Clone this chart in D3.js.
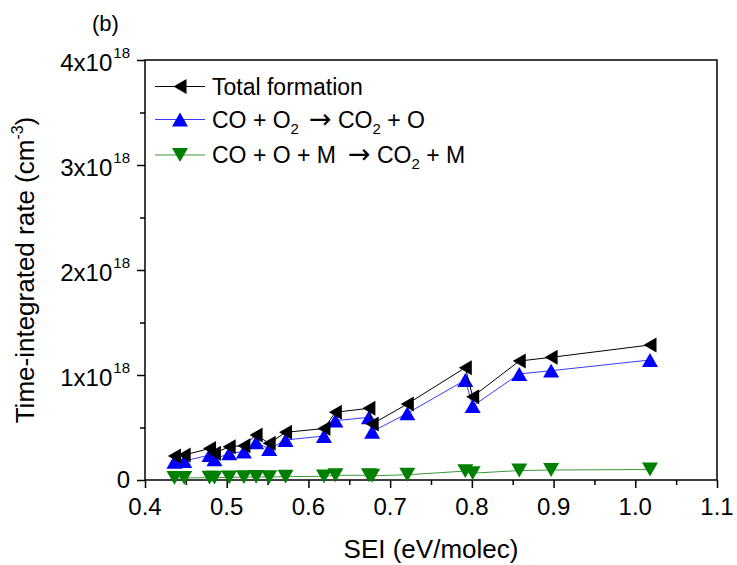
<!DOCTYPE html>
<html><head><meta charset="utf-8">
<script src="https://cdn.jsdelivr.net/npm/d3@7"></script>
<style>body{margin:0;background:#fff}svg{display:block}text{font-family:"Liberation Sans",Arial,sans-serif;fill:#000}</style>
</head><body><svg id="c" width="737" height="565"></svg>
<script>
// SEI values (eV/molec)
const sei = [0.436,0.448,0.479,0.485,0.503,0.521,0.536,0.552,0.572,0.619,0.633,0.674,0.678,0.721,0.792,0.801,0.858,0.897,1.018];
// Time-integrated rates in units of 1e18 cm^-3
const totalFormation = [0.229,0.238,0.300,0.254,0.317,0.327,0.429,0.349,0.454,0.490,0.645,0.683,0.533,0.724,1.070,0.794,1.133,1.168,1.286];
const coO2 = [0.174,0.181,0.238,0.197,0.254,0.270,0.359,0.295,0.381,0.419,0.565,0.597,0.460,0.635,0.952,0.705,1.010,1.041,1.143];
const coOM = [0.020,0.020,0.022,0.022,0.025,0.027,0.030,0.028,0.032,0.035,0.045,0.045,0.040,0.050,0.085,0.065,0.090,0.095,0.100];
const xTicks = [0.4,0.5,0.6,0.7,0.8,0.9,1.0,1.1];
const yTicks = [0,1,2,3,4];
const yTickLabels = ["0","1x10","2x10","3x10","4x10"];

const svg = d3.select("#c");
const L=145, R=717, T=60, B=480;
const x = d3.scaleLinear().domain([0.4,1.1]).range([L,R]);
const y = d3.scaleLinear().domain([0,4]).range([B,T]);

// frame
svg.append("rect").attr("x",L).attr("y",T).attr("width",R-L).attr("height",B-T)
  .attr("fill","none").attr("stroke","#000").attr("stroke-width",1.5);

// x axis
const xa = svg.append("g").attr("transform",`translate(0,${B})`)
  .call(d3.axisBottom(x).tickValues(d3.range(0.4,1.1001,0.05)).tickSize(5).tickFormat(""));
xa.select(".domain").remove();
xa.selectAll(".tick line").attr("stroke-width",1.5)
  .attr("y2",(d)=> Math.abs(Math.round(d*10)-d*10)<1e-6 ? 8 : 5);
xTicks.forEach(v=>{
  svg.append("text").attr("x",x(v)).attr("y",515).attr("text-anchor","middle")
    .attr("font-size",24).text(v.toFixed(1));
});

// y axis
const ya = svg.append("g").attr("transform",`translate(${L},0)`)
  .call(d3.axisLeft(y).tickValues(d3.range(0,4.001,0.5)).tickSize(5).tickFormat(""));
ya.select(".domain").remove();
ya.selectAll(".tick line").attr("stroke-width",1.5)
  .attr("x2",(d)=> Math.abs(Math.round(d)-d)<1e-6 ? -8 : -5);
yTicks.forEach((v,i)=>{
  const t = svg.append("text").attr("x",130).attr("y",y(v)+(v===0?8:11)).attr("text-anchor","end").attr("font-size",24);
  t.append("tspan").text(yTickLabels[i]);
  if(v!==0) t.append("tspan").attr("font-size",15).attr("dx",1).attr("dy",-13).text("18");
});

// axis titles
svg.append("text").attr("x",(L+R)/2).attr("y",558).attr("text-anchor","middle").attr("font-size",26).text("SEI (eV/molec)");
const yl = svg.append("text").attr("transform",`translate(34,${(T+B)/2}) rotate(-90)`).attr("text-anchor","middle").attr("font-size",26);
yl.append("tspan").text("Time-integrated rate (cm");
yl.append("tspan").attr("font-size",16).attr("dy",-11).text("-3");
yl.append("tspan").attr("dy",11).text(")");

svg.append("text").attr("x",92).attr("y",31).attr("font-size",22).text("(b)");

// markers
function tri(dir, s){
  const h = s*0.866;
  if(dir==="left") return `M${-h/2},0L${h/2},${-s/2}L${h/2},${s/2}Z`;
  if(dir==="up") return `M0,${-h/2}L${s/2},${h/2}L${-s/2},${h/2}Z`;
  return `M0,${h/2}L${s/2},${-h/2}L${-s/2},${-h/2}Z`;
}
const series = [
  {name:"total", vals:totalFormation, color:"#000000", line:"#000000", dir:"left", size:15},
  {name:"co2", vals:coO2, color:"#0000ff", line:"#3b3bff", dir:"up", size:16},
  {name:"com", vals:coOM, color:"#008000", line:"#3a9a3a", dir:"down", size:16}
];
const line = d3.line().x(d=>x(d[0])).y(d=>y(d[1]));
[series[2],series[1],series[0]].forEach(s=>{
  const pts = sei.map((v,i)=>[v,s.vals[i]]);
  svg.append("path").attr("d",line(pts)).attr("fill","none").attr("stroke",s.line).attr("stroke-width",1);
  svg.selectAll(null).data(pts).enter().append("path")
    .attr("transform",d=>`translate(${x(d[0])},${y(d[1])})`)
    .attr("d",tri(s.dir,s.size)).attr("fill",s.color);
});

// legend
const legendRows = [86.5,119.5,155];
series.forEach((s,i)=>{
  const ly = legendRows[i];
  svg.append("line").attr("x1",155).attr("x2",205).attr("y1",ly).attr("y2",ly).attr("stroke",s.line).attr("stroke-width",1);
  svg.append("path").attr("transform",`translate(180,${ly})`).attr("d",tri(s.dir,s.size)).attr("fill",s.color);
});
function addLegendText(ly, parts){
  const t = svg.append("text").attr("x",212).attr("y",ly+8).attr("font-size",23);
  let shift = 0;
  parts.forEach(p=>{
    if(p.sub){ t.append("tspan").attr("font-size",15).attr("dy",6-shift).text(p.sub); shift = 6; }
    else if(p.arrow){ t.append("tspan").attr("dy",-shift).attr("dx",p.dx).attr("font-family","DejaVu Sans").attr("font-size",27).text("\u2192"); shift = 0; }
    else { t.append("tspan").attr("dy",-shift).text(p.t); shift = 0; }
  });
}
addLegendText(legendRows[0],[{t:"Total formation"}]);
addLegendText(legendRows[1],[{t:"CO + O"},{sub:"2"},{arrow:true,dx:10},{t:" CO"},{sub:"2"},{t:" + O"}]);
addLegendText(legendRows[2],[{t:"CO + O + M"},{arrow:true,dx:12},{t:" CO"},{sub:"2"},{t:" + M"}]);
</script>
</body></html>
